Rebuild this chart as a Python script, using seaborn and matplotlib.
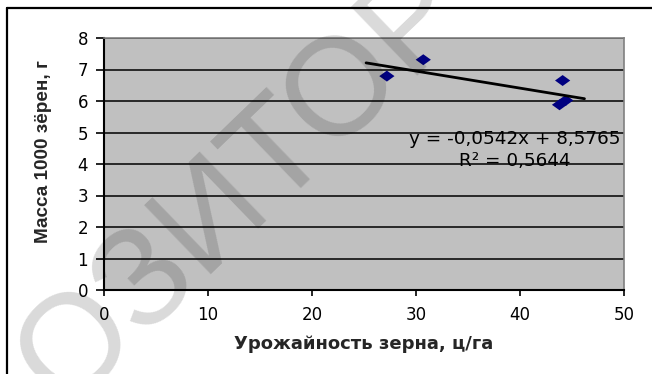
import matplotlib
matplotlib.use("Agg")
import matplotlib.pyplot as plt
from matplotlib.lines import Line2D
import seaborn as sns
import pandas as pd

# Yield of grain vs. mass of 1000 grains
yield_cwt_ha = [27.2, 30.7, 44.1, 43.8, 44.4]
mass_1000_g = [6.79, 7.31, 6.65, 5.88, 6.02]

# Linear trend as reported on the chart
trend_slope = -0.0542
trend_intercept = 8.5765
trend_r2 = 0.5644
trend_x = [25.2, 46.2]

x_ticks = [0, 10, 20, 30, 40, 50]
y_ticks = [0, 1, 2, 3, 4, 5, 6, 7, 8]

x_label = "Урожайность зерна, ц/га"
y_label = "Масса 1000 зёрен, г"
stamp = "ОЗИТОР"

sns.set_style("white")
plt.rcParams["font.family"] = ["DejaVu Sans"]

W, H = 652, 374
fig = plt.figure(figsize=(W / 100, H / 100), dpi=100)
fig.patch.set_facecolor("white")

ax = fig.add_axes([104 / W, 84 / H, 520 / W, 252 / H])
ax.set_facecolor("#c0c0c0")

points = pd.DataFrame({"x": yield_cwt_ha, "y": mass_1000_g})
trend = pd.DataFrame({"x": trend_x,
                      "y": [trend_slope * v + trend_intercept for v in trend_x]})

diamond = [(-1.0, 0.0), (0.0, 0.72), (1.0, 0.0), (0.0, -0.72), (-1.0, 0.0)]
sns.scatterplot(data=points, x="x", y="y", ax=ax, marker=diamond, s=120,
                color="#000080", edgecolor="none", zorder=3)
sns.lineplot(data=trend, x="x", y="y", ax=ax, color="black", lw=2.0, zorder=4)

ax.set_xlim(0, 50)
ax.set_ylim(0, 8)
ax.set_xticks(x_ticks)
ax.set_yticks(y_ticks)
ax.set_xticklabels([str(t) for t in x_ticks])
ax.set_yticklabels([str(t) for t in y_ticks])

ax.grid(axis="y", color="black", lw=1.1)
ax.grid(axis="x", visible=False)
ax.set_axisbelow(True)

for side in ("left", "bottom"):
    ax.spines[side].set_color("black")
    ax.spines[side].set_linewidth(1.5)
for side in ("top", "right"):
    ax.spines[side].set_color("#808080")
    ax.spines[side].set_linewidth(1.2)

ax.tick_params(axis="y", direction="out", length=5.5, width=1.2, color="black",
               pad=6, labelsize=12, labelcolor="black")
ax.tick_params(axis="x", direction="out", length=4.5, width=1.2, color="black",
               pad=7, labelsize=12, labelcolor="black")
ax.tick_params(left=True, bottom=True)

ax.set_xlabel(x_label, fontsize=13, fontweight="bold", family=["DejaVu Sans"])
ax.xaxis.set_label_coords(0.5, -0.18)
ax.set_ylabel(y_label, fontsize=13.6, fontweight="bold",
              family=["Liberation Sans Narrow", "Liberation Sans", "DejaVu Sans"])
ax.yaxis.set_label_coords(-0.1, 0.55)

eq_text = "y = {:.4f}x + {:.4f}".format(trend_slope, trend_intercept).replace(".", ",")
r2_text = "R² = {:.4f}".format(trend_r2).replace(".", ",")
ax.text(39.45, 4.79, eq_text, ha="center", va="center", fontsize=13.2, color="black")
ax.text(39.45, 4.09, r2_text, ha="center", va="center", fontsize=13.2, color="black")

# Outer chart frame (left and top edges)
fig.add_artist(Line2D([7 / W, 7 / W], [0, 1 - 8 / H], transform=fig.transFigure,
                      color="black", lw=1.6))
fig.add_artist(Line2D([7 / W, 1], [1 - 8 / H, 1 - 8 / H], transform=fig.transFigure,
                      color="black", lw=1.6))

# Diagonal repository stamp over the page
fig.text(64 / W, 1 - 410 / H, stamp, rotation=44, rotation_mode="anchor",
         ha="left", va="baseline", fontsize=100, color="black", alpha=0.15,
         family=["Liberation Sans", "DejaVu Sans"], zorder=10)

fig.savefig("out.png", dpi=100, facecolor="white")
